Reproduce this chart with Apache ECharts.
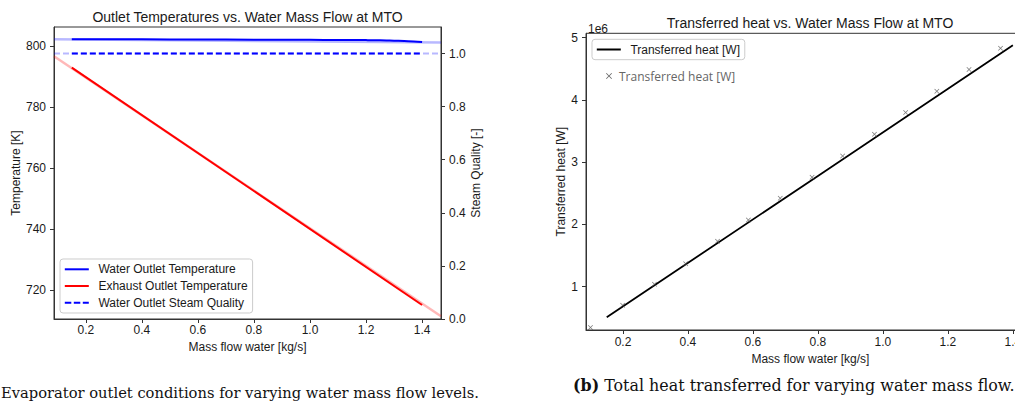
<!DOCTYPE html>
<html><head><meta charset="utf-8">
<script src="https://cdn.jsdelivr.net/npm/echarts@6/dist/echarts.min.js"></script>
<style>html,body{margin:0;padding:0;background:#fff;overflow:hidden;}#wrap{width:1015px;height:405px;overflow:hidden;position:relative;}#c{width:1040px;height:405px;}</style>
</head><body><div id="wrap"><div id="c"></div></div>
<script>
// ---------- Panel (a): outlet temperatures ----------
const waterFlow = [0.15, 0.40, 0.60, 0.80, 1.00, 1.10, 1.20, 1.25, 1.30, 1.35, 1.40];
const waterOutletT = [802.2, 802.15, 802.1, 802.05, 802.0, 801.95, 801.9, 801.85, 801.7, 801.55, 801.3];
const exhaustFlow = [0.15, 1.40];
const exhaustOutletT = [792.9, 715.1];
const qualityFlow = [0.15, 1.40];
const steamQuality = [1.0, 1.0];
// faint full-range traces behind the main lines
const faintFlow = [0.0865, 1.4675];
const faintWaterT = [802.2, 801.1];
const faintExhaustT = [796.6, 711.4];
const faintQuality = [1.0, 1.0];
const xTicksA = [0.2, 0.4, 0.6, 0.8, 1.0, 1.2, 1.4];
const yTicksTemp = [720, 740, 760, 780, 800];
const yTicksQuality = [0.0, 0.2, 0.4, 0.6, 0.8, 1.0];

// ---------- Panel (b): transferred heat ----------
const heatFlow = [0.100, 0.199, 0.297, 0.393, 0.491, 0.586, 0.684, 0.782, 0.876, 0.974, 1.070, 1.166, 1.265, 1.362];
const heatW = [0.345e6, 0.70e6, 1.04e6, 1.37e6, 1.73e6, 2.07e6, 2.42e6, 2.76e6, 3.10e6, 3.45e6, 3.80e6, 4.14e6, 4.49e6, 4.83e6];
const heatLineFlow = [0.15, 0.80, 1.40];
const heatLineW = [0.51e6, 2.78e6, 4.88e6];
const xTicksB = [0.2, 0.4, 0.6, 0.8, 1.0, 1.2, 1.4];
const yTicksHeat = [1e6, 2e6, 3e6, 4e6, 5e6];

const zip = (a, b) => a.map((v, i) => [v, b[i]]);
const SANS = 'Liberation Sans';
const AX = '#333';
const TXT = '#1a1a1a';
const XPATH = 'path://M0,1L1,0L5,4L9,0L10,1L6,5L10,9L9,10L5,6L1,10L0,9L4,5Z';
const LINEICON = 'path://M0,0h24v2h-24z';
const DASHICON = 'path://M0,0h6.5v2h-6.5zM9,0h6.5v2h-6.5zM18,0h6v2h-6z';

function valAxis(o) {
  const base = {
    type: 'value',
    axisLine: { show: true, onZero: false, lineStyle: { color: AX, width: 1 } },
    axisTick: { show: true, inside: false, length: 4, customValues: o.ticks, lineStyle: { color: AX, width: 1 } },
    axisLabel: { customValues: o.ticks, formatter: o.fmt, margin: o.margin, fontSize: 12, color: TXT, fontFamily: SANS },
    splitLine: { show: false },
    nameLocation: 'middle',
    nameTextStyle: { fontSize: 12, color: TXT, fontFamily: SANS }
  };
  delete o.ticks; delete o.fmt; delete o.margin;
  return Object.assign(base, o);
}

const chart = echarts.init(document.getElementById('c'), null, { renderer: 'svg', width: 1040, height: 405 });
chart.setOption({
  animation: false,
  grid: [
    { left: 54, right: 599, top: 27, bottom: 86, show: true, borderColor: AX, borderWidth: 1, backgroundColor: 'transparent', containLabel: false },
    { left: 586, right: 5.2, top: 33.3, bottom: 75, show: true, borderColor: AX, borderWidth: 1, backgroundColor: 'transparent', containLabel: false }
  ],
  xAxis: [
    valAxis({ gridIndex: 0, min: 0.0865, max: 1.4675, ticks: xTicksA, fmt: v => v.toFixed(1), margin: 5,
      name: 'Mass flow water [kg/s]', nameGap: 21.5 }),
    valAxis({ gridIndex: 1, min: 0.0862, max: 1.4675, ticks: xTicksB, fmt: v => v.toFixed(1), margin: 6,
      name: 'Mass flow water [kg/s]', nameGap: 23 })
  ],
  yAxis: [
    valAxis({ gridIndex: 0, min: 710.5, max: 806.2, ticks: yTicksTemp, fmt: v => String(v), margin: 8,
      name: 'Temperature [K]', nameGap: 31.5 }),
    valAxis({ gridIndex: 0, position: 'right', min: 0, max: 1.1, ticks: yTicksQuality, fmt: v => v.toFixed(1), margin: 8,
      name: 'Steam Quality [-]', nameGap: 26 }),
    valAxis({ gridIndex: 1, min: 0.3044e6, max: 5.0707e6, ticks: yTicksHeat, fmt: v => String(Math.round(v / 1e6)), margin: 8,
      name: 'Transferred heat [W]', nameGap: 19 })
  ],
  legend: [
    {
      orient: 'vertical', left: 60, top: 259,
      data: [
        { name: 'Water Outlet Temperature', icon: LINEICON },
        { name: 'Exhaust Outlet Temperature', icon: LINEICON },
        { name: 'Water Outlet Steam Quality', icon: DASHICON }
      ],
      itemWidth: 24, itemHeight: 2, itemGap: 4.7,
      padding: [4.3, 4.8, 4.3, 4.8],
      backgroundColor: 'rgba(255,255,255,0.85)', borderColor: '#cccccc', borderWidth: 1, borderRadius: 3,
      itemStyle: { borderWidth: 0 },
      textStyle: { fontFamily: SANS, fontSize: 12, color: TXT, padding: [0, 0, 0, 4.6] },
      selectedMode: false
    },
    {
      orient: 'vertical', left: 592, top: 39.3,
      data: [{ name: 'Transferred heat [W]', icon: LINEICON }],
      itemWidth: 24, itemHeight: 2,
      padding: [4.2, 4.8, 4.2, 4.8],
      backgroundColor: 'rgba(255,255,255,0.85)', borderColor: '#cccccc', borderWidth: 1, borderRadius: 3,
      itemStyle: { borderWidth: 0, color: '#000' },
      textStyle: { fontFamily: SANS, fontSize: 12, color: TXT, padding: [0, 0, 0, 4.6] },
      selectedMode: false
    },
    {
      orient: 'vertical', left: 606, top: 70,
      data: [{ name: 'Transferred heat [W]', icon: XPATH }],
      itemWidth: 6, itemHeight: 6, padding: 0,
      itemStyle: { borderWidth: 0, color: '#666' },
      textStyle: { fontFamily: 'Open Sans', fontSize: 12, color: '#666', padding: [0, 0, 0, 2] },
      selectedMode: false
    }
  ],
  series: [
    { name: 'faint water', type: 'line', xAxisIndex: 0, yAxisIndex: 0, data: zip(faintFlow, faintWaterT), symbol: 'none',
      lineStyle: { color: 'rgba(0,0,255,0.28)', width: 2.5 }, z: 1, silent: true },
    { name: 'faint exhaust', type: 'line', xAxisIndex: 0, yAxisIndex: 0, data: zip(faintFlow, faintExhaustT), symbol: 'none',
      lineStyle: { color: 'rgba(255,0,0,0.28)', width: 2.5 }, z: 1, silent: true },
    { name: 'faint quality', type: 'line', xAxisIndex: 0, yAxisIndex: 1, data: zip(faintFlow, faintQuality), symbol: 'none',
      lineStyle: { color: 'rgba(0,0,255,0.28)', width: 2, type: [6, 3] }, z: 1, silent: true },
    { name: 'Water Outlet Temperature', type: 'line', xAxisIndex: 0, yAxisIndex: 0, data: zip(waterFlow, waterOutletT),
      symbol: 'none', smooth: 0.3, color: '#0000ff', lineStyle: { color: '#0000ff', width: 2 }, z: 3 },
    { name: 'Exhaust Outlet Temperature', type: 'line', xAxisIndex: 0, yAxisIndex: 0, data: zip(exhaustFlow, exhaustOutletT),
      symbol: 'none', color: '#ff0000', lineStyle: { color: '#ff0000', width: 2 }, z: 3 },
    { name: 'Water Outlet Steam Quality', type: 'line', xAxisIndex: 0, yAxisIndex: 1, data: zip(qualityFlow, steamQuality),
      symbol: 'none', color: '#0000ff', lineStyle: { color: '#0000ff', width: 2, type: [6, 3] }, z: 3 },
    { name: 'Transferred heat [W]', type: 'line', xAxisIndex: 1, yAxisIndex: 2, data: zip(heatLineFlow, heatLineW),
      symbol: 'none', color: '#000', lineStyle: { color: '#000', width: 1.8 }, z: 3 },
    { name: 'Transferred heat [W]', type: 'scatter', xAxisIndex: 1, yAxisIndex: 2, data: zip(heatFlow, heatW),
      symbol: XPATH, symbolSize: 5, itemStyle: { color: '#555' }, z: 4 }
  ],
  graphic: [
    { type: 'text', x: 247.5, y: 16.5, style: { text: 'Outlet Temperatures vs. Water Mass Flow at MTO', fontSize: 14, fontFamily: SANS, fill: TXT, align: 'center', verticalAlign: 'middle' } },
    { type: 'text', x: 810, y: 23.3, style: { text: 'Transferred heat vs. Water Mass Flow at MTO', fontSize: 14, fontFamily: SANS, fill: TXT, align: 'center', verticalAlign: 'middle' } },
    { type: 'text', x: 588, y: 29, style: { text: '1e6', fontSize: 12, fontFamily: SANS, fill: TXT, align: 'left', verticalAlign: 'middle' } },
    { type: 'text', x: 1, y: 392, style: { text: 'Evaporator outlet conditions for varying water mass flow levels.', fontSize: 14.7, fontFamily: 'DejaVu Serif', fill: '#111', align: 'left', verticalAlign: 'middle' } },
    { type: 'text', x: 573, y: 385, style: { text: '{b|(b)} Total heat transferred for varying water mass flow.', fontSize: 15.9, fontFamily: 'DejaVu Serif', fill: '#111', align: 'left', verticalAlign: 'middle',
      rich: { b: { fontWeight: 'bold', fontSize: 15.9, fontFamily: 'DejaVu Serif', fill: '#111' } } } }
  ]
});
</script></body></html>
